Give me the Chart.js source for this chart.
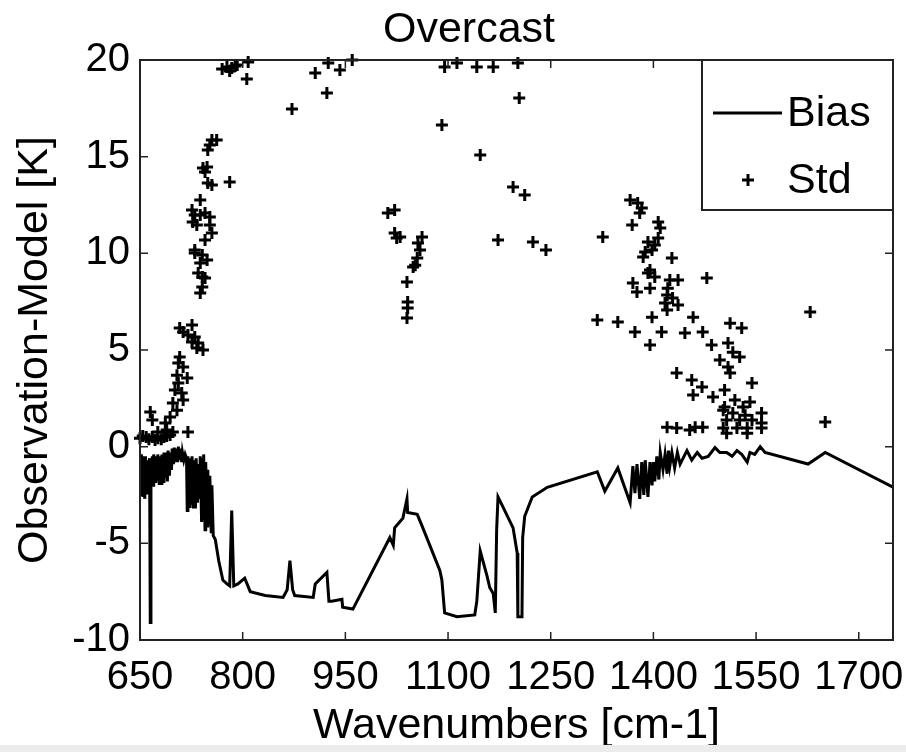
<!DOCTYPE html>
<html>
<head>
<meta charset="utf-8">
<script src="https://cdn.jsdelivr.net/npm/chart.js@4"></script>
<style>
  html, body { margin: 0; padding: 0; background: #fff; }
  #wrap { width: 906px; height: 752px; }
</style>
</head>
<body>
<div id="wrap"><canvas id="chart" width="906" height="752"></canvas></div>
<script>
// values
const chartTitle = 'Overcast';
const xTitle = 'Wavenumbers [cm-1]';
const yTitle = 'Observation-Model [K]';
const xTicks = [650, 800, 950, 1100, 1250, 1400, 1550, 1700];
const yTicks = [-10, -5, 0, 5, 10, 15, 20];

const biasX = [
    650, 651, 652, 653, 654, 655, 656, 657, 658, 659,
    660, 662, 664, 665, 666, 667, 668, 669, 670, 672,
    673, 675, 676, 678, 679, 681, 682, 684, 685, 687,
    688, 690, 691, 693, 694, 696, 697, 699, 700, 702,
    703, 705, 706, 708, 709, 711, 712, 714, 716, 718,
    719, 720, 722, 723, 725, 726, 728, 729, 731, 732,
    734, 735, 737, 738, 740, 741, 742, 743, 745, 746,
    748, 749, 751, 752, 754, 755, 757, 760,
    765, 771, 777, 781, 784, 787, 793, 803, 811, 833,
    859, 865, 869, 873, 876, 903, 906, 923, 926, 930,
    945, 946, 961, 1015, 1020, 1022, 1034, 1040, 1041, 1055,
    1062, 1088, 1091, 1095, 1113, 1139, 1142, 1147, 1157, 1161,
    1166, 1169, 1171, 1173, 1180, 1195, 1201, 1202, 1208, 1209,
    1212, 1223, 1245, 1318, 1329, 1348,
    1366, 1370, 1373, 1376, 1380, 1383, 1386, 1388, 1392, 1395,
    1398, 1400, 1402, 1405, 1408, 1410, 1414, 1417, 1420, 1422,
    1424, 1427, 1431, 1435, 1439, 1449, 1456, 1464, 1471, 1480,
    1490, 1497, 1507, 1515, 1522, 1529, 1537, 1541, 1548, 1556,
    1563, 1626, 1651, 1750
];
const biasY = [
    -0.5, -2.2, -0.4, -2.5, -0.5, -2.6, -0.6, -2.7, -0.5, -2.4,
    -0.7, -1.2, -0.6, -9.1, -0.8, -1.9, -0.5, -2.0, -0.4, -1.8,
    -0.5, -1.7, -0.4, -1.9, -0.5, -1.9, -0.4, -1.8, -0.3, -1.6,
    -0.3, -1.8, -0.2, -1.5, -0.3, -1.2, -0.1, -0.9, -0.05, -0.8,
    -0.1, -0.8, 0.0, -0.7, -0.1, -0.8, -0.3, -0.7, -0.4, -0.6,
    -3.3, -0.5, -3.1, -0.6, -3.0, -0.5, -3.2, -0.7, -3.2, -0.6,
    -2.9, -0.9, -2.7, -0.5, -3.9, -0.6, -3.8, -0.4, -4.3, -0.8,
    -4.1, -1.2, -4.0, -1.5, -4.4, -2.0, -4.6, -4.8,
    -5.9, -6.9, -7.1, -7.2, -3.3, -7.2, -7.1, -6.8, -7.5, -7.7,
    -7.8, -7.4, -5.9, -7.4, -7.7, -7.8, -7.1, -6.5, -8.0, -8.0,
    -7.9, -8.3, -8.4, -4.7, -5.1, -4.2, -3.7, -2.7, -3.4, -3.5,
    -4.1, -6.4, -6.9, -8.6, -8.8, -8.7, -8.0, -5.4, -6.7, -7.3,
    -7.6, -8.6, -4.3, -2.6, -3.1, -4.2, -5.5, -8.8, -8.8, -4.7,
    -3.6, -2.6, -2.1, -1.3, -2.3, -1.1,
    -2.9, -1.0, -2.4, -0.9, -2.7, -0.8, -2.5, -0.7, -2.6, -0.8,
    -2.0, -0.8, -1.8, -0.5, -1.7, -0.3, -1.2, -0.4, -1.4, -0.2,
    -1.0, -0.3, -1.1, -0.3, -0.9, -0.2, -0.7, -0.3, -0.6, -0.5,
    -0.05, -0.3, -0.3, -0.5, -0.2, -0.4, -0.8, -0.3, -0.4, 0.0,
    -0.3, -0.9, -0.3, -2.1
];

const stdX = [
    650, 654, 659, 663, 668, 672, 676, 681, 685, 689, 694, 698,
    665, 668, 676, 720,
    687, 689, 694, 698, 704, 701, 711, 713, 706, 719, 704, 713, 706, 708,
    708, 713, 726, 720, 730, 726, 735, 733, 742,
    730, 741, 748, 738, 735, 741, 745, 741, 738,
    730, 745, 755, 752, 733, 727, 752, 745, 738, 730, 726, 738, 755, 749, 781,
    748, 745, 742, 749, 752, 755, 762,
    770, 777, 784, 789, 792, 781, 808, 806, 872, 906, 923, 925, 942, 960,
    1095, 1113, 1142, 1166, 1202, 1204, 1091, 1147, 1195, 1212,
    1012, 1022, 1022, 1025, 1030, 1062, 1056, 1059, 1055, 1052, 1049, 1040,
    1041, 1041, 1040, 1173, 1224, 1243,
    1326, 1318, 1348, 1366, 1377, 1383, 1380, 1369, 1407, 1410, 1407, 1392,
    1402, 1388, 1398, 1385, 1427, 1395, 1392, 1402, 1370, 1376, 1395, 1424,
    1436, 1478, 1421, 1420, 1428, 1417, 1436, 1420, 1373, 1398, 1412, 1395,
    1458, 1446, 1472, 1512, 1529, 1485, 1509, 1516, 1526, 1497, 1509, 1512,
    1434, 1456, 1471, 1458, 1487, 1504, 1544, 1519, 1541, 1502, 1516, 1534,
    1558, 1507, 1526, 1544, 1558, 1420, 1434, 1453, 1461, 1472, 1502, 1522,
    1537, 1558, 1507, 1537, 1531, 1504, 1629, 1651
];
const stdY = [
    0.44, 0.55, 0.50, 0.39, 0.50, 0.34, 0.44, 0.39, 0.50, 0.55, 0.60, 0.76,
    1.79, 1.38, 0.76, 0.76,
    1.22, 0.86, 1.53, 2.26, 1.89, 2.93, 2.77, 2.41, 3.29, 3.55, 3.70, 4.12, 4.33, 4.64,
    6.14, 5.93, 6.29, 5.77, 5.67, 5.41, 5.36, 5.10, 5.00,
    10.02, 9.91, 9.65, 9.50, 8.98, 8.77, 8.72, 8.26, 7.95,
    10.17, 10.69, 11.05, 11.46, 11.46, 11.62, 11.88, 12.08, 11.98, 11.98, 12.24, 12.76, 13.53, 13.64, 13.69,
    14.46, 14.21, 14.41, 15.34, 15.60, 15.86, 15.86,
    19.53, 19.64, 19.59, 19.69, 19.74, 19.43, 19.90, 19.02, 17.47, 19.33, 18.29, 19.84, 19.48, 20.0,
    19.64, 19.84, 19.64, 19.64, 19.84, 18.03, 16.64, 15.09, 13.43, 13.02,
    12.08, 12.24, 11.05, 10.79, 10.84, 10.84, 10.53, 10.17, 9.76, 9.39, 9.29, 8.52,
    7.48, 7.17, 6.65, 10.69, 10.58, 10.17,
    10.84, 6.55, 6.45, 12.76, 12.60, 12.34, 12.08, 11.46, 11.62, 11.31, 10.79, 10.58,
    10.43, 10.07, 10.17, 9.81, 9.76, 9.14, 8.98, 8.77, 8.46, 8.00, 8.20, 8.62,
    8.62, 8.72, 8.20, 7.84, 7.69, 7.43, 7.33, 7.07, 5.93, 6.70, 5.93, 5.26,
    6.70, 5.88, 5.93, 6.39, 6.14, 5.26, 5.36, 4.89, 4.64, 4.48, 4.12, 3.81,
    3.81, 3.45, 3.08, 2.67, 2.57, 2.93, 3.29, 2.41, 2.31, 1.89, 1.74, 1.63,
    1.74, 1.38, 1.38, 1.38, 1.22, 1.01, 0.96, 0.86, 1.01, 1.01, 0.96, 0.96,
    0.96, 0.96, 0.70, 0.70, 2.05, 2.05, 6.96, 1.27
];

const font = 'Liberation Sans, Arial, Helvetica, sans-serif';
const axisColor = '#222';

const biasData = biasX.map((x, i) => ({ x: x, y: biasY[i] }));
const stdData = stdX.map((x, i) => ({ x: x, y: stdY[i] }));

// white page behind the chart
const background = {
    id: 'background',
    beforeDraw(chart) {
        const ctx = chart.ctx;
        ctx.save();
        ctx.fillStyle = '#fff';
        ctx.fillRect(0, 0, chart.width, chart.height);
        ctx.restore();
    }
};

// matlab style box with inward ticks, title and legend
const matlabFrame = {
    id: 'matlabFrame',
    afterDatasetsDraw(chart) {
        const { ctx, chartArea: a, scales } = chart;
        ctx.save();
        ctx.strokeStyle = axisColor;
        ctx.lineWidth = 2;
        ctx.strokeRect(a.left, a.top, a.right - a.left, a.bottom - a.top);
        ctx.lineWidth = 1.5;
        ctx.beginPath();
        xTicks.forEach(v => {
            const px = scales.x.getPixelForValue(v);
            ctx.moveTo(px, a.bottom); ctx.lineTo(px, a.bottom - 8);
            ctx.moveTo(px, a.top); ctx.lineTo(px, a.top + 8);
        });
        yTicks.forEach(v => {
            const py = scales.y.getPixelForValue(v);
            ctx.moveTo(a.left, py); ctx.lineTo(a.left + 8, py);
            ctx.moveTo(a.right, py); ctx.lineTo(a.right - 8, py);
        });
        ctx.stroke();

        // title
        ctx.fillStyle = '#000';
        ctx.font = '43px ' + font;
        ctx.textAlign = 'center';
        ctx.textBaseline = 'middle';
        ctx.fillText(chartTitle, 469, 30);

        // legend
        const lw = 191, lh = 150;
        const lx = a.right - lw, ly = a.top;
        ctx.fillStyle = '#fff';
        ctx.fillRect(lx, ly, lw, lh);
        ctx.strokeStyle = axisColor;
        ctx.lineWidth = 2;
        ctx.strokeRect(lx, ly, lw, lh);
        ctx.strokeStyle = '#000';
        ctx.lineWidth = 3;
        ctx.beginPath();
        ctx.moveTo(lx + 11, ly + 53);
        ctx.lineTo(lx + 80, ly + 53);
        ctx.stroke();
        ctx.beginPath();
        ctx.moveTo(lx + 40, ly + 120); ctx.lineTo(lx + 52, ly + 120);
        ctx.moveTo(lx + 46, ly + 114); ctx.lineTo(lx + 46, ly + 126);
        ctx.stroke();
        ctx.fillStyle = '#000';
        ctx.textAlign = 'left';
        ctx.fillText(chart.data.datasets[0].label, lx + 85, ly + 54);
        ctx.fillText(chart.data.datasets[1].label, lx + 85, ly + 121);

        // light strip at the very bottom, as in the screenshot
        ctx.fillStyle = '#ececec';
        ctx.fillRect(0, chart.height - 7, chart.width, 7);
        ctx.restore();
    }
};

const ctx = document.getElementById('chart').getContext('2d');

// eslint-disable-next-line no-undef
new Chart(ctx, {
    type: 'scatter',
    data: {
        datasets: [{
            label: 'Bias',
            data: biasData,
            showLine: true,
            borderColor: '#000',
            borderWidth: 3,
            pointRadius: 0,
            tension: 0
        }, {
            label: 'Std',
            data: stdData,
            showLine: false,
            pointStyle: 'cross',
            pointRadius: 6,
            borderWidth: 3,
            borderColor: '#000',
            backgroundColor: '#000',
            clip: false
        }]
    },
    options: {
        responsive: false,
        animation: false,
        layout: { padding: { top: 60, right: 13, left: 0, bottom: 0 } },
        plugins: {
            legend: { display: false },
            tooltip: { enabled: false }
        },
        scales: {
            x: {
                type: 'linear',
                min: 650,
                max: 1750,
                afterBuildTicks: scale => { scale.ticks = xTicks.map(v => ({ value: v })); },
                afterFit: scale => {
                    scale.height = 112;
                    scale.paddingLeft = 0;
                    scale.paddingRight = 0;
                },
                grid: { display: false, drawTicks: false },
                border: { display: false },
                ticks: {
                    color: '#000',
                    font: { family: font, size: 40 },
                    padding: 14,
                    maxRotation: 0,
                    autoSkip: false,
                    callback: v => String(v)
                },
                title: { display: true, text: xTitle, color: '#000', font: { family: font, size: 43 }, padding: { top: 0, bottom: 0 } }
            },
            y: {
                type: 'linear',
                min: -10,
                max: 20,
                afterBuildTicks: scale => { scale.ticks = yTicks.map(v => ({ value: v })); },
                afterFit: scale => {
                    scale.width = 140;
                    scale.paddingTop = 0;
                    scale.paddingBottom = 0;
                },
                grid: { display: false, drawTicks: false },
                border: { display: false },
                ticks: {
                    color: '#000',
                    font: { family: font, size: 40 },
                    padding: 10,
                    autoSkip: false,
                    callback: v => String(v)
                },
                title: { display: true, text: yTitle, color: '#000', font: { family: font, size: 43 }, padding: { top: 9, bottom: 0 } }
            }
        }
    },
    plugins: [background, matlabFrame]
});
</script>
</body>
</html>
